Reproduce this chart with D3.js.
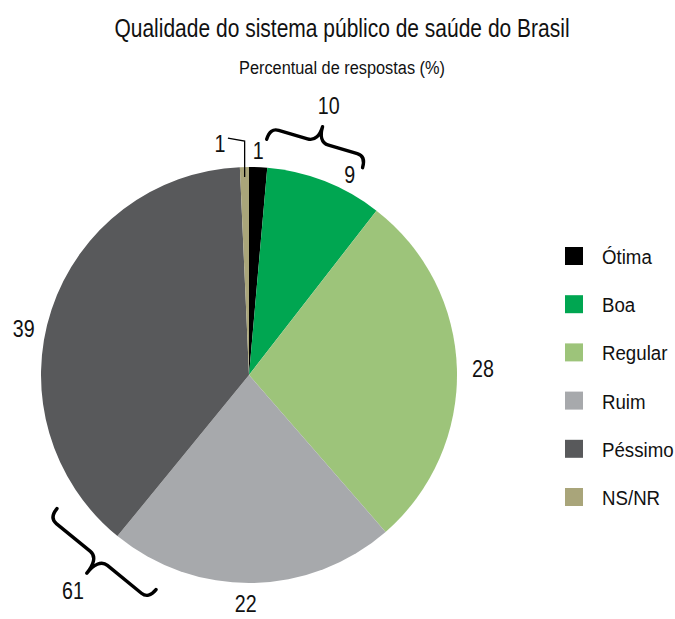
<!DOCTYPE html>
<html>
<head>
<meta charset="utf-8">
<script src="https://cdn.jsdelivr.net/npm/d3@7/dist/d3.min.js"></script>
<style>
  html, body { margin: 0; padding: 0; background: #fff; }
  svg { display: block; font-family: "Liberation Sans", Arial, sans-serif; }
</style>
</head>
<body>
<svg id="chart" width="675" height="619"></svg>
<script>
// Data
const categories = ['Ótima', 'Boa', 'Regular', 'Ruim', 'Péssimo', 'NS/NR'];
const values = [1.4, 9.1, 28.1, 22.3, 38.4, 0.7];
const valueLabels = ['1', '9', '28', '22', '39', '1'];
const colors = ['#000000', '#00a651', '#9dc47a', '#a7a9ac', '#58595b', '#a9a57a'];
// Group sums shown with curly braces
const groupLabels = ['10', '61'];

const title = 'Qualidade do sistema público de saúde do Brasil';
const subtitle = 'Percentual de respostas (%)';

// Layout
const cx = 249, cy = 375, R = 208;
const LABEL_R = 232;
// small hand nudges so labels sit where the original put them
const labelNudge = [[-1, 7], [16, 15], [2, 0], [-7, -3], [-5, 27], [-24, 0]];
// brace placement: angle (deg) along the pie, radius, half length, tip size
const braceLayout = [
  { deg: 16.5, r: 243, half: 50, tip: 16 },
  { deg: 219.3, r: 237, half: 64, tip: 19 }
];

const svg = d3.select('#chart');
const data = categories.map((c, i) => ({ name: c, value: values[i], label: valueLabels[i], color: colors[i] }));

// condensed text helper: squeezes glyphs around the anchor point
function narrowText(parent, x, y, str, size, anchor, squeeze) {
  return parent.append('text')
    .attr('transform', `translate(${x},${y}) scale(${squeeze || 0.82},1)`)
    .attr('text-anchor', anchor || 'middle')
    .attr('font-size', size)
    .attr('fill', '#111')
    .text(str);
}

// Title block
narrowText(svg, 342, 37, title, 25, 'middle', 0.84);
narrowText(svg, 342, 74, subtitle, 19, 'middle', 0.86);

// Pie
const pie = d3.pie().sort(null).value(d => d.value);
const arcs = pie(data);
const arc = d3.arc().innerRadius(0).outerRadius(R);

const g = svg.append('g').attr('transform', `translate(${cx},${cy})`);
g.selectAll('path.slice')
  .data(arcs)
  .join('path')
  .attr('class', 'slice')
  .attr('d', arc)
  .attr('fill', d => d.data.color);

// Value labels
const labelArc = d3.arc().innerRadius(LABEL_R).outerRadius(LABEL_R);
arcs.forEach((d, i) => {
  const [x, y] = labelArc.centroid(d);
  narrowText(g, x + labelNudge[i][0], y + labelNudge[i][1] + 8.5, d.data.label, 24);
});

// Leader line for the tiny NS/NR slice
const ns = arcs[5];
const nsMid = (ns.startAngle + ns.endAngle) / 2;
const nsX = Math.sin(nsMid) * (R - 10);
const nsLabelPos = labelArc.centroid(ns);
g.append('path')
  .attr('d', d3.line()([
    [nsLabelPos[0] + labelNudge[5][0] + 8, nsLabelPos[1] - 5],
    [nsX, nsLabelPos[1] - 2],
    [nsX, -Math.cos(nsMid) * (R - 10)]
  ]))
  .attr('fill', 'none')
  .attr('stroke', '#000')
  .attr('stroke-width', 1.3);

// Curly braces for group sums
function bracePath(half, hook, tip) {
  const p = d3.path();
  p.moveTo(-half, -hook);
  p.quadraticCurveTo(-half, 0, -half + 9, 0);
  p.lineTo(-11, 0);
  p.bezierCurveTo(-3, 0, 0, tip * 0.45, 0, tip);
  p.bezierCurveTo(0, tip * 0.45, 3, 0, 11, 0);
  p.lineTo(half - 9, 0);
  p.quadraticCurveTo(half, 0, half, -hook);
  return p.toString();
}

braceLayout.forEach((b, i) => {
  const a = b.deg * Math.PI / 180;
  const bx = Math.sin(a) * b.r, by = -Math.cos(a) * b.r;
  // local x runs clockwise along the pie, local y points outward
  g.append('path')
    .attr('d', bracePath(b.half, 12, b.tip))
    .attr('transform', `translate(${bx},${by}) rotate(${b.deg}) scale(1,-1)`)
    .attr('fill', 'none')
    .attr('stroke', '#000')
    .attr('stroke-width', 3.4)
    .attr('stroke-linecap', 'round')
    .attr('stroke-linejoin', 'round');
  const lr = b.r + b.tip + 22;
  narrowText(g, Math.sin(a) * lr, -Math.cos(a) * lr + 8.5, groupLabels[i], 24);
});

// Legend
const ly = d3.scalePoint().domain(categories).range([247, 488]);
const items = svg.append('g').selectAll('g')
  .data(data)
  .join('g')
  .attr('transform', d => `translate(565,${ly(d.name)})`);
items.append('rect')
  .attr('width', 18).attr('height', 18)
  .attr('fill', d => d.color);
items.each(function (d) {
  narrowText(d3.select(this), 37, 17, d.name, 21, 'start', 0.89);
});
</script>
</body>
</html>
